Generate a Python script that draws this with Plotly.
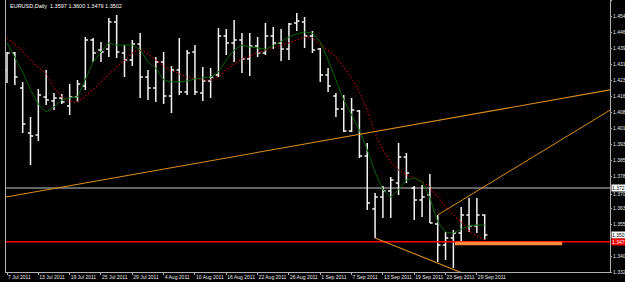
import plotly.graph_objects as go

# ---------------- data ----------------
dates = ["7 Jul 2011", "8 Jul 2011", "11 Jul 2011", "12 Jul 2011", "13 Jul 2011", "14 Jul 2011",
         "15 Jul 2011", "18 Jul 2011", "19 Jul 2011", "20 Jul 2011", "21 Jul 2011", "22 Jul 2011",
         "25 Jul 2011", "26 Jul 2011", "27 Jul 2011", "28 Jul 2011", "29 Jul 2011",
         "1 Aug 2011", "2 Aug 2011", "3 Aug 2011", "4 Aug 2011", "5 Aug 2011", "8 Aug 2011",
         "9 Aug 2011", "10 Aug 2011", "11 Aug 2011", "12 Aug 2011", "15 Aug 2011", "16 Aug 2011",
         "17 Aug 2011", "18 Aug 2011", "19 Aug 2011", "22 Aug 2011", "23 Aug 2011", "24 Aug 2011",
         "25 Aug 2011", "26 Aug 2011", "29 Aug 2011", "30 Aug 2011", "31 Aug 2011",
         "1 Sep 2011", "2 Sep 2011", "5 Sep 2011", "6 Sep 2011", "7 Sep 2011", "8 Sep 2011",
         "9 Sep 2011", "12 Sep 2011", "13 Sep 2011", "14 Sep 2011", "15 Sep 2011", "16 Sep 2011",
         "19 Sep 2011", "20 Sep 2011", "21 Sep 2011", "22 Sep 2011", "23 Sep 2011", "26 Sep 2011",
         "27 Sep 2011", "28 Sep 2011", "29 Sep 2011", "30 Sep 2011"]

open_ = [1.4286, 1.4366, 1.4200, 1.3986, 1.3977, 1.4157, 1.4138, 1.4153, 1.4115, 1.4157,
         1.4210, 1.4428, 1.4381, 1.4385, 1.4514, 1.4366, 1.4333, 1.4409, 1.4252, 1.4200,
         1.4324, 1.4162, 1.4286, 1.4181, 1.4371, 1.4176, 1.4233, 1.4262, 1.4447, 1.4414,
         1.4428, 1.4338, 1.4400, 1.4366, 1.4447, 1.4414, 1.4385, 1.4509, 1.4514, 1.4447,
         1.4385, 1.4262, 1.4162, 1.4100, 1.3996, 1.4091, 1.3877, 1.3625, 1.3682, 1.3711,
         1.3749, 1.3872, 1.3725, 1.3668, 1.3692, 1.3554, 1.3454, 1.3488, 1.3511, 1.3597,
         1.3545, 1.3597]
high = [1.4371, 1.4371, 1.4229, 1.4062, 1.4195, 1.4286, 1.4176, 1.4172, 1.4219, 1.4238,
        1.4442, 1.4438, 1.4418, 1.4533, 1.4547, 1.4404, 1.4428, 1.4461, 1.4286, 1.4347,
        1.4371, 1.4305, 1.4438, 1.4381, 1.4404, 1.4300, 1.4295, 1.4485, 1.4480, 1.4523,
        1.4461, 1.4461, 1.4442, 1.4509, 1.4490, 1.4480, 1.4509, 1.4556, 1.4537, 1.4471,
        1.4390, 1.4295, 1.4176, 1.4167, 1.4153, 1.4096, 1.3939, 1.3701, 1.3735, 1.3777,
        1.3939, 1.3891, 1.3735, 1.3739, 1.3791, 1.3597, 1.3516, 1.3526, 1.3635, 1.3678,
        1.3678, 1.3600]
low = [1.4224, 1.4214, 1.3986, 1.3834, 1.3948, 1.4119, 1.4096, 1.4124, 1.4072, 1.4134,
       1.4191, 1.4324, 1.4324, 1.4347, 1.4343, 1.4252, 1.4305, 1.4153, 1.4143, 1.4134,
       1.4124, 1.4081, 1.4167, 1.4167, 1.4167, 1.4138, 1.4153, 1.4252, 1.4357, 1.4324,
       1.4271, 1.4257, 1.4347, 1.4357, 1.4385, 1.4328, 1.4333, 1.4471, 1.4390, 1.4366,
       1.4229, 1.4181, 1.4062, 1.3991, 1.3991, 1.3868, 1.3621, 1.3488, 1.3583, 1.3583,
       1.3692, 1.3749, 1.3573, 1.3587, 1.3559, 1.3374, 1.3383, 1.3345, 1.3464, 1.3516,
       1.3511, 1.3479]
close = [1.4366, 1.4252, 1.4029, 1.3972, 1.4167, 1.4143, 1.4153, 1.4134, 1.4157, 1.4219,
         1.4428, 1.4366, 1.4371, 1.4514, 1.4371, 1.4333, 1.4409, 1.4252, 1.4200, 1.4324,
         1.4162, 1.4286, 1.4181, 1.4366, 1.4181, 1.4233, 1.4252, 1.4447, 1.4414, 1.4428,
         1.4338, 1.4400, 1.4366, 1.4447, 1.4414, 1.4385, 1.4504, 1.4518, 1.4447, 1.4381,
         1.4262, 1.4210, 1.4100, 1.3996, 1.4096, 1.3877, 1.3654, 1.3682, 1.3711, 1.3763,
         1.3872, 1.3796, 1.3668, 1.3682, 1.3559, 1.3454, 1.3488, 1.3511, 1.3597, 1.3545,
         1.3597, 1.3502]

# moving averages
red_ma = [1.4438, 1.4409, 1.4376, 1.4333, 1.4300, 1.4267, 1.4200, 1.4157, 1.4134, 1.4134,
          1.4162, 1.4191, 1.4229, 1.4267, 1.4300, 1.4328, 1.4366, 1.4385, 1.4362, 1.4333,
          1.4305, 1.4281, 1.4267, 1.4252, 1.4243, 1.4238, 1.4238, 1.4252, 1.4286, 1.4314,
          1.4338, 1.4352, 1.4366, 1.4381, 1.4390, 1.4404, 1.4414, 1.4428, 1.4442, 1.4438,
          1.4409, 1.4376, 1.4347, 1.4300, 1.4248, 1.4181, 1.4096, 1.3986, 1.3906, 1.3849,
          1.3811, 1.3787, 1.3773, 1.3754, 1.3730, 1.3682, 1.3635, 1.3597, 1.3564, 1.3521,
          1.3497, 1.3478]
green_ma = [1.4414, 1.4347, 1.4276, 1.4191, 1.4124, 1.4086, 1.4110, 1.4143, 1.4153, 1.4157,
            1.4238, 1.4324, 1.4371, 1.4414, 1.4404, 1.4404, 1.4404, 1.4381, 1.4324, 1.4295,
            1.4238, 1.4229, 1.4229, 1.4233, 1.4243, 1.4248, 1.4252, 1.4276, 1.4333, 1.4381,
            1.4404, 1.4395, 1.4390, 1.4385, 1.4400, 1.4423, 1.4442, 1.4457, 1.4466, 1.4461,
            1.4419, 1.4333, 1.4238, 1.4143, 1.4072, 1.4000, 1.3906, 1.3801, 1.3716, 1.3682,
            1.3716, 1.3763, 1.3773, 1.3754, 1.3678, 1.3564, 1.3516, 1.3511, 1.3530, 1.3545,
            1.3549, 1.3549]

# trend lines: (bar position, price) pairs
long_trend = [(-0.13, 1.3682), (77.0, 1.4191)]
lower_trend = [(47, 1.3488), (58.75, 1.3312)]
upper_trend = [(55, 1.3597), (77.0, 1.4095)]
orange_band = [(57.2, 1.3461), (70.9, 1.3461)]

# horizontal levels
white_level = 1.3725
red_level = 1.3470
bid_level = 1.3502
level_labels = {"white": "1.372", "red": "1.347", "bid": "1.350"}

# axis ticks (the 1.347 grid label is hidden behind the level boxes in the original)
price_ticks = [1.4618, 1.4542, 1.4466, 1.4390, 1.4314, 1.4238, 1.4162, 1.4086, 1.4010,
               1.3934, 1.3858, 1.3782, 1.3696, 1.3630, 1.3554, 1.3402, 1.3326]
price_tick_labels = ["1.461", "1.454", "1.446", "1.439", "1.431", "1.423", "1.416", "1.408",
                     "1.401", "1.393", "1.385", "1.378", "1.370", "1.363", "1.355",
                     "1.340", "1.332"]
date_tick_step = 4

# ---------------- figure ----------------
xs = list(range(len(dates)))
FONT = "Liberation Sans Narrow, Liberation Sans"
fig = go.Figure()

fig.add_trace(go.Ohlc(
    x=xs, open=open_, high=high, low=low, close=close,
    increasing=dict(line=dict(color="#f4f4f4", width=1.5)),
    decreasing=dict(line=dict(color="#f4f4f4", width=1.5)),
    tickwidth=0.35, showlegend=False, hoverinfo="skip"))

fig.add_trace(go.Scatter(x=xs, y=red_ma, mode="lines",
                         line=dict(color="#c00000", width=1.2, dash="1.3px,2.2px"),
                         showlegend=False, hoverinfo="skip"))
fig.add_trace(go.Scatter(x=xs, y=green_ma, mode="lines",
                         line=dict(color="#006400", width=1.0),
                         showlegend=False, hoverinfo="skip"))

shapes = []
shapes.append(dict(type="line", xref="paper", x0=0, x1=1, yref="y",
                   y0=white_level, y1=white_level, line=dict(color="#c8c8c8", width=1), layer="below"))
shapes.append(dict(type="line", xref="paper", x0=0, x1=1, yref="y",
                   y0=red_level, y1=red_level, line=dict(color="#ff0000", width=1.6)))
for seg, w in ((long_trend, 1.1), (lower_trend, 1.1), (upper_trend, 1.0)):
    (xa, ya), (xb, yb) = seg
    shapes.append(dict(type="line", xref="x", yref="y", x0=xa, y0=ya, x1=xb, y1=yb,
                       line=dict(color="#d98c1a", width=w)))
(xa, ya), (xb, yb) = orange_band
shapes.append(dict(type="line", xref="x", yref="y", x0=xa, y0=ya, x1=xb, y1=yb,
                   line=dict(color="#ff8a3c", width=3.5)))

annotations = []
title_txt = "EURUSD,Daily  %.4f %.4f %.4f %.4f" % (open_[-1], high[-1], low[-1], close[-1])
annotations.append(dict(xref="paper", yref="paper", x=0, y=1, xanchor="left", yanchor="top",
                        xshift=2, yshift=-1, text=title_txt, showarrow=False,
                        font=dict(family="Liberation Sans", size=5.5, color="#ffffff")))
for lvl, key, bg, fg in ((white_level, "white", "#ffffff", "#000000"),
                         (bid_level, "bid", "#ffffff", "#000000"),
                         (red_level, "red", "#ff0000", "#ffffff")):
    annotations.append(dict(xref="paper", yref="y", x=1, y=lvl, xanchor="left", yanchor="middle",
                            xshift=1, text=level_labels[key], showarrow=False,
                            bgcolor=bg, borderpad=0,
                            font=dict(family=FONT, size=5, color=fg)))

fig.update_layout(
    width=625, height=282,
    margin=dict(l=6, r=15, t=0, b=10),
    paper_bgcolor="#000000", plot_bgcolor="#000000",
    shapes=shapes, annotations=annotations,
    showlegend=False,
    xaxis=dict(range=[-0.13, 77.0], rangeslider=dict(visible=False), automargin=False,
               showgrid=False, zeroline=False,
               showline=True, linecolor="#b0b0b0", linewidth=1,
               ticks="outside", ticklen=2, tickcolor="#b0b0b0",
               tickvals=xs[::date_tick_step], ticktext=dates[::date_tick_step],
               tickangle=0, ticklabelposition="outside right",
               tickfont=dict(family="Liberation Sans", size=5, color="#e8e8e8")),
    yaxis=dict(range=[1.3326, 1.4618], side="right", automargin=False,
               showgrid=False, zeroline=False,
               showline=True, mirror=True, linecolor="#b0b0b0", linewidth=1,
               ticks="outside", ticklen=1, tickcolor="#b0b0b0",
               ticklabelstandoff=0,
               tickvals=price_ticks, ticktext=price_tick_labels,
               tickfont=dict(family=FONT, size=5, color="#e8e8e8")),
)

fig.write_html("out.html")
